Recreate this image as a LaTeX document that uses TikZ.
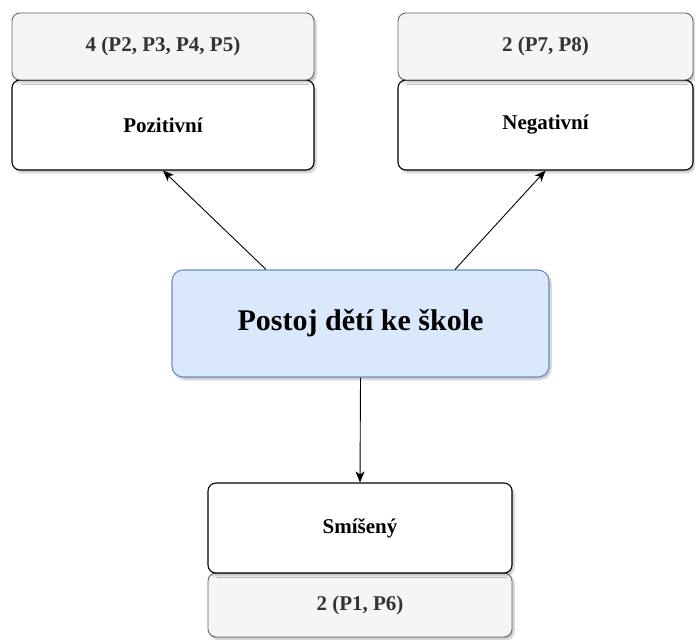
\documentclass[tikz,border=0pt]{standalone}
\usepackage{fontspec}
\setmainfont{Liberation Serif}
\usetikzlibrary{arrows.meta,calc,shadows.blur}
\definecolor{box_grey}{RGB}{245,245,245}
\definecolor{box_greyline}{RGB}{102,102,102}
\definecolor{box_greytext}{RGB}{51,51,51}
\definecolor{box_blue}{RGB}{218,232,252}
\definecolor{box_blueline}{RGB}{108,142,191}

\begin{document}
\begin{tikzpicture}[x=1pt,y=-1pt]
    % Define box and arrow styles
    \tikzset{
        card/.style={draw, line width=1.1pt, rounded corners=8pt, fill=white, inner sep=0pt,
            minimum width=302pt, minimum height=90pt, font=\bfseries\fontsize{21}{25}\selectfont,
            blur shadow={shadow xshift=2pt, shadow yshift=-2.5pt, shadow blur steps=6, shadow opacity=25}},
        count/.style={card, line width=0.9pt, draw=box_greyline, fill=box_grey, text=box_greytext, minimum height=67pt},
        theme/.style={card, draw=box_blueline, fill=box_blue, rounded corners=11pt,
            minimum width=377pt, minimum height=107pt, font=\bfseries\fontsize{30}{36}\selectfont},
        link/.style={-{Stealth[length=11pt,width=9pt,inset=3pt]}, line width=0.9pt}
    }

    \useasboundingbox (0,0) rectangle (695,639); % keep the page size

    % Top left pair
    \node[card] (poz) at (163,125) {Pozitivní};
    \node[count] (poznum) at (163,46.5) {4 (P2, P3, P4, P5)};

    % Top right pair
    \node[card, minimum width=295pt] (neg) at (545.5,125) {Negativní};
    \node[count, minimum width=295pt] (negnum) at (545.5,46.5) {2 (P7, P8)};

    % Centre
    \node[theme] (postoj) at (360.5,323.5) {Postoj dětí ke škole};

    % Bottom pair
    \node[count, minimum width=304pt, minimum height=64pt] (smsnum) at (360,605) {2 (P1, P6)};
    \node[card, minimum width=304pt] (sms) at (360,528) {Smíšený};

    % Arrows out of the centre
    \draw[link] ($(postoj.north west)!0.25!(postoj.north east)$) -- (poz.south);
    \draw[link] ($(postoj.north west)!0.75!(postoj.north east)$) -- (neg.south);
    \draw[link] (postoj.south) -- (sms.north);
\end{tikzpicture}
\end{document}
